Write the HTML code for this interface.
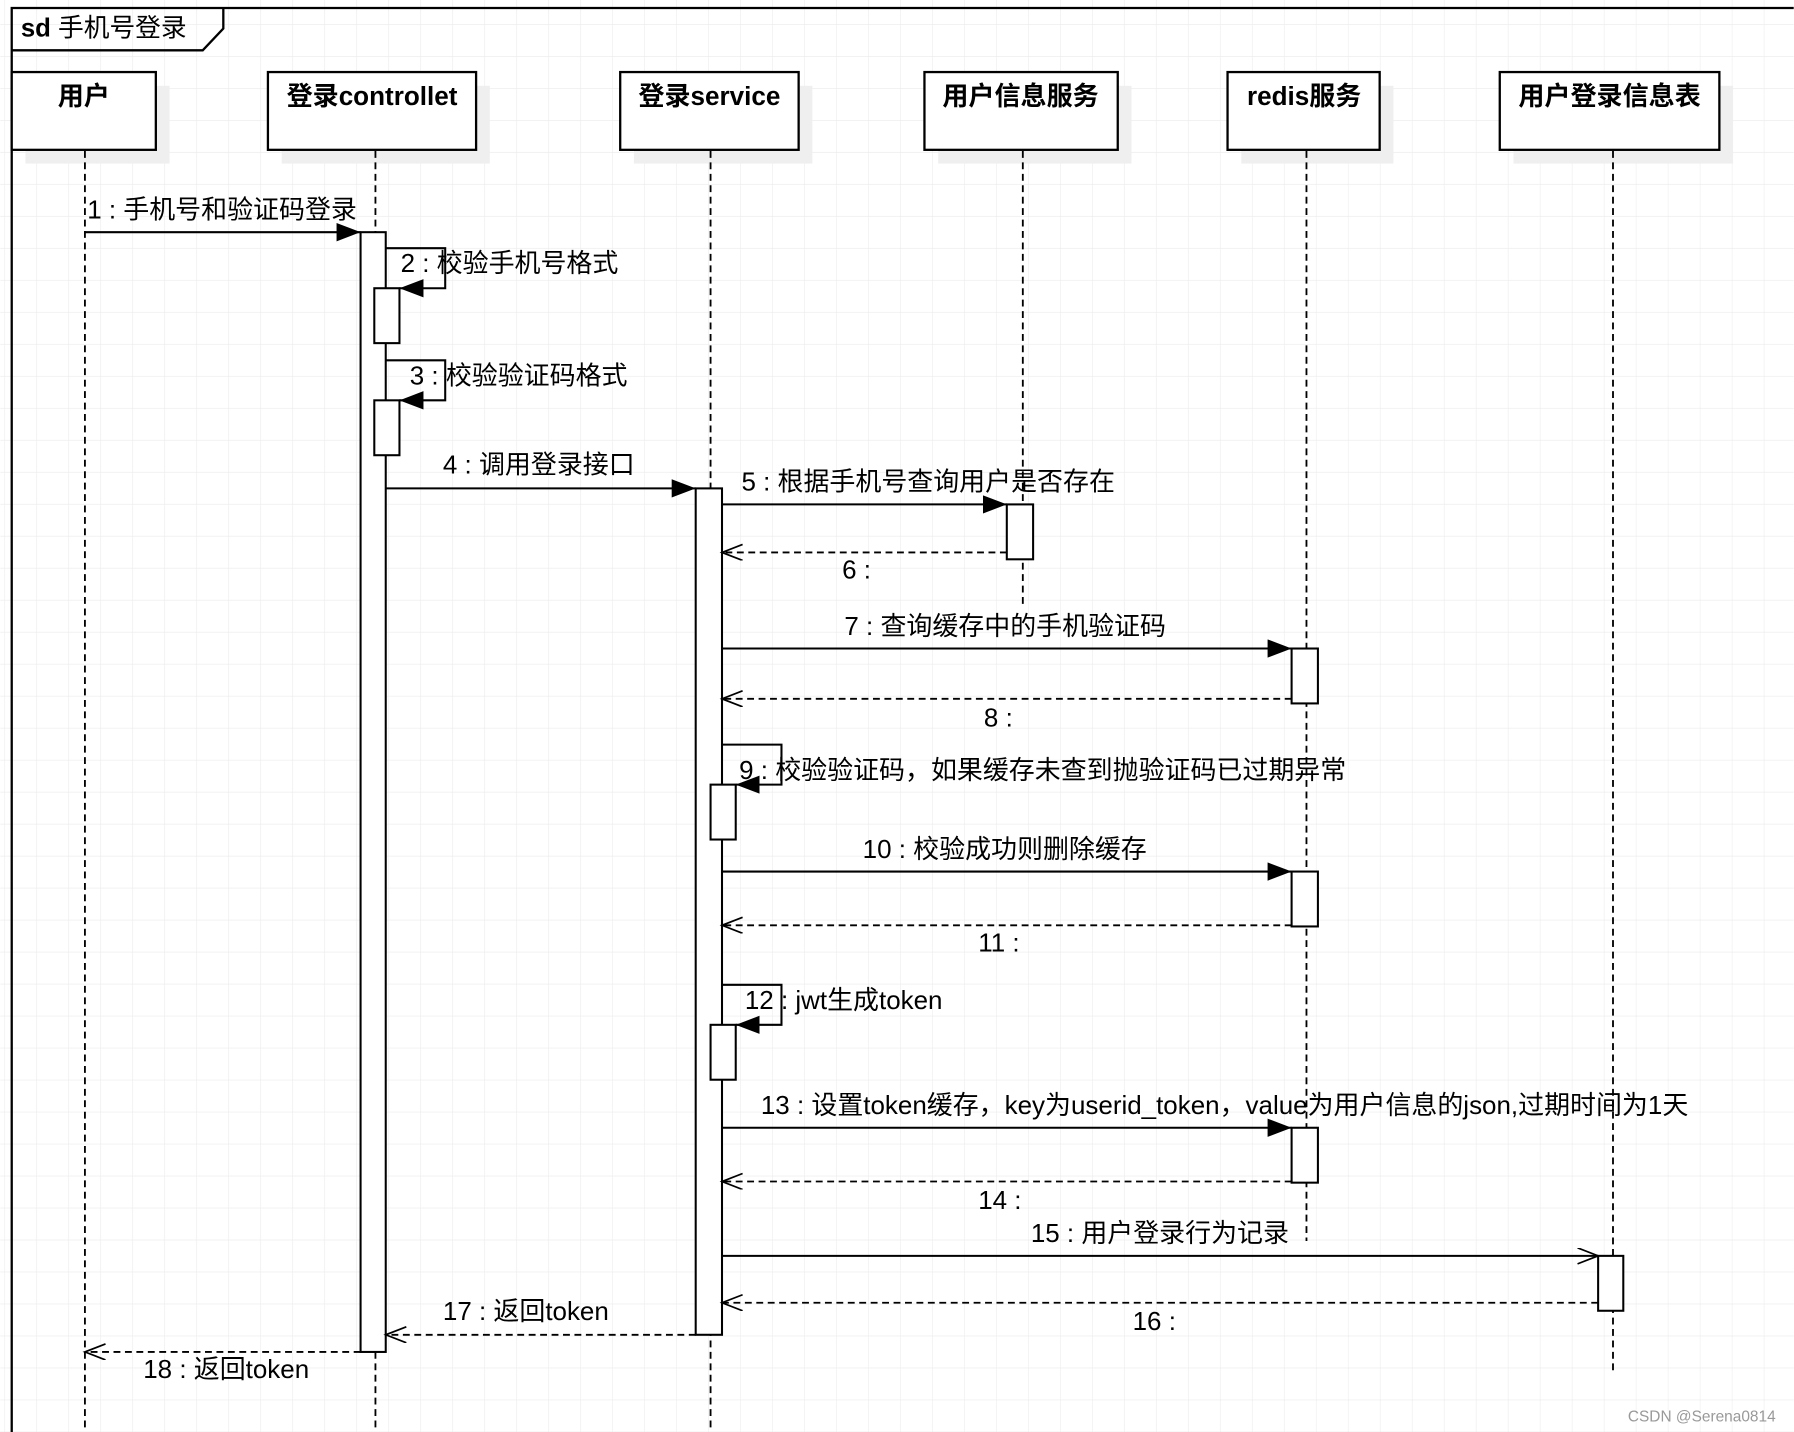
<!DOCTYPE html>
<html><head><meta charset="utf-8"><style>
html,body{margin:0;padding:0;background:#fff;}
svg{display:block;}
text{font-family:"Liberation Sans","Noto Sans CJK SC",sans-serif;fill:#000;}
</style></head><body>
<svg width="1794" height="1432" viewBox="0 0 1568 1252" xmlns="http://www.w3.org/2000/svg">
<defs>
<pattern id="g" x="3.5" y="21" width="27.97" height="27.97" patternUnits="userSpaceOnUse">
<path d="M0 0H27.97M0 0V27.97" stroke="#ebebeb" stroke-width="1" fill="none"/>
</pattern>
<marker id="f" markerWidth="24" markerHeight="18" refX="21" refY="8" orient="auto" markerUnits="userSpaceOnUse"><path d="M0 0L21 8L0 16Z" fill="#000"/></marker>
<marker id="o" markerWidth="22" markerHeight="16" refX="19" refY="7" orient="auto" markerUnits="userSpaceOnUse"><path d="M1 0L19 7L1 14" fill="none" stroke="#000" stroke-width="1.5"/></marker>
</defs>
<rect width="1568" height="1252" fill="url(#g)"/>
<g fill="none" stroke="#000" stroke-width="2">
<path d="M10 1252V7H1568"/>
<path d="M10 44H177L195 25V7"/>
</g>
<text x="18" y="32" font-size="22.5"><tspan font-weight="bold">sd</tspan> 手机号登录</text>
<g fill="#efefef">
<rect x="22" y="75" width="126" height="68"/><rect x="246" y="75" width="182" height="68"/>
<rect x="554" y="75" width="156" height="68"/><rect x="820" y="75" width="169" height="68"/>
<rect x="1085" y="75" width="133" height="68"/><rect x="1323" y="75" width="192" height="68"/>
</g>
<g fill="#fff" stroke="#000" stroke-width="2">
<rect x="10" y="63" width="126" height="68"/><rect x="234" y="63" width="182" height="68"/>
<rect x="542" y="63" width="156" height="68"/><rect x="808" y="63" width="169" height="68"/>
<rect x="1073" y="63" width="133" height="68"/><rect x="1311" y="63" width="192" height="68"/>
</g>
<g font-size="22.8" font-weight="bold" text-anchor="middle">
<text x="73" y="92">用户</text><text x="325" y="92">登录controllet</text>
<text x="620" y="92">登录service</text><text x="892" y="92">用户信息服务</text>
<text x="1140" y="92">redis服务</text><text x="1407" y="92">用户登录信息表</text>
</g>
<g stroke="#000" stroke-width="1.6" stroke-dasharray="6,4">
<path d="M74 132V1252M328 132V1252M621 132V1252M894 132V530M1142 132V1085M1410 132V1198"/>
</g>
<g fill="#fff" stroke="#000" stroke-width="1.8">
<rect x="315" y="203" width="22" height="979"/>
<rect x="327" y="252" width="22" height="48"/>
<rect x="327" y="350" width="22" height="48"/>
<rect x="608" y="427" width="23" height="740"/>
<rect x="880" y="441" width="23" height="48"/>
<rect x="1129" y="567" width="23" height="48"/>
<rect x="1129" y="762" width="23" height="48"/>
<rect x="1129" y="986" width="23" height="48"/>
<rect x="621" y="686" width="22" height="48"/>
<rect x="621" y="896" width="22" height="48"/>
<rect x="1397" y="1098" width="22" height="48"/>
</g>
<g fill="none" stroke="#000" stroke-width="1.8">
<path d="M74 203H315" marker-end="url(#f)"/>
<path d="M337 217H389V252H349" marker-end="url(#f)"/>
<path d="M337 315H389V350H349" marker-end="url(#f)"/>
<path d="M337 427H608" marker-end="url(#f)"/>
<path d="M631 441H880" marker-end="url(#f)"/>
<path d="M631 567H1129" marker-end="url(#f)"/>
<path d="M631 651H683V686H643" marker-end="url(#f)"/>
<path d="M631 762H1129" marker-end="url(#f)"/>
<path d="M631 861H683V896H643" marker-end="url(#f)"/>
<path d="M631 986H1129" marker-end="url(#f)"/>
<path d="M631 1098H1397" marker-end="url(#o)"/>
</g>
<g fill="none" stroke="#000" stroke-width="1.6" stroke-dasharray="6,4">
<path d="M880 483H631" marker-end="url(#o)"/>
<path d="M1129 611H631" marker-end="url(#o)"/>
<path d="M1129 809H631" marker-end="url(#o)"/>
<path d="M1129 1033H631" marker-end="url(#o)"/>
<path d="M1397 1139H631" marker-end="url(#o)"/>
<path d="M608 1167H337" marker-end="url(#o)"/>
<path d="M315 1182H74" marker-end="url(#o)"/>
</g>
<g font-size="22.7">
<text x="76" y="191">1 : 手机号和验证码登录</text>
<text x="350" y="238">2 : 校验手机号格式</text>
<text x="358" y="336">3 : 校验验证码格式</text>
<text x="387" y="414">4 : 调用登录接口</text>
<text x="648" y="429">5 : 根据手机号查询用户是否存在</text>
<text x="736" y="506">6 :</text>
<text x="738" y="555">7 : 查询缓存中的手机验证码</text>
<text x="860" y="635">8 :</text>
<text x="646" y="681">9 : 校验验证码，如果缓存未查到抛验证码已过期异常</text>
<text x="754" y="750">10 : 校验成功则删除缓存</text>
<text x="855" y="832">11 :</text>
<text x="651" y="882">12 : jwt生成token</text>
<text x="665" y="974">13 : 设置token缓存，key为userid_token，value为用户信息的json,过期时间为1天</text>
<text x="855" y="1057">14 :</text>
<text x="901" y="1086">15 : 用户登录行为记录</text>
<text x="990" y="1163">16 :</text>
<text x="387" y="1154">17 : 返回token</text>
<text x="125" y="1205">18 : 返回token</text>
</g>
<text x="1423" y="1243" font-size="13.5" style="fill:#999">CSDN @Serena0814</text>
</svg>
</body></html>
